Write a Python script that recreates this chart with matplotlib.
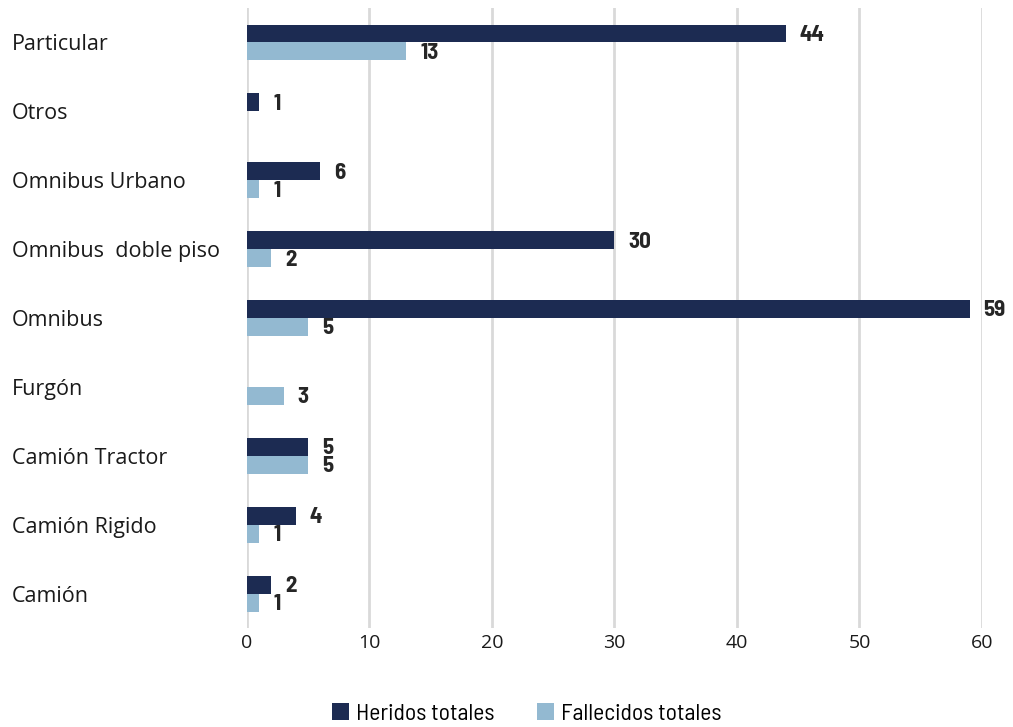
import matplotlib.pyplot as plt
import numpy as np

categorias = ["Camión", "Camión Rigido", "Camión Tractor", "Furgón", "Omnibus",
              "Omnibus  doble piso", "Omnibus Urbano", "Otros", "Particular"]
heridos = [2, 4, 5, None, 59, 30, 6, 1, 44]
fallecidos = [1, 1, 5, 3, 5, 2, 1, None, 13]

COLOR_HER = "#1c2b52"
COLOR_FAL = "#93b9d1"
FUENTE_NUM = ["Barlow Semi Condensed", "Roboto Condensed", "Roboto", "DejaVu Sans"]
FUENTE_CAT = ["Open Sans", "Lato", "DejaVu Sans"]

fig = plt.figure(figsize=(10.13, 7.27), dpi=100)
ax = fig.add_axes([0.2438, 0.136, 0.7256, 0.853])

y = np.arange(len(categorias))
alto = 0.26


def a_num(vals):
    return [np.nan if v is None else v for v in vals]


b1 = ax.barh(y + alto / 2, a_num(heridos), height=alto, color=COLOR_HER,
             label="Heridos totales", zorder=3)
b2 = ax.barh(y - alto / 2, a_num(fallecidos), height=alto, color=COLOR_FAL,
             label="Fallecidos totales", zorder=3)

for barras, vals in ((b1, heridos), (b2, fallecidos)):
    for barra, v in zip(barras, vals):
        if v is None:
            continue
        ax.annotate(str(v), (v, barra.get_y() + barra.get_height() / 2),
                    xytext=(10, -1), textcoords="offset points",
                    ha="left", va="center", fontsize=16.5, fontweight="bold",
                    family=FUENTE_NUM, color="#262626")

ax.set_xlim(0, 60)
ax.set_ylim(-0.5, len(categorias) - 0.5)
ax.set_xticks(range(0, 61, 10))
ax.set_yticks(y)
ax.set_yticklabels(categorias, fontsize=15.5, family=FUENTE_CAT, color="#1a1a1a")
ax.tick_params(axis="x", labelsize=14, colors="#1a1a1a", length=0, pad=4)
ax.tick_params(axis="y", length=0, pad=0)
for lab in ax.get_yticklabels():
    lab.set_horizontalalignment("left")
    lab.set_x(-0.232 / 0.7256)
for lab in ax.get_xticklabels():
    lab.set_family(FUENTE_CAT)

ax.grid(axis="x", color="#d9d9d9", linewidth=2, zorder=0)
for s in ax.spines.values():
    s.set_visible(False)

fig.legend(handles=[b1, b2], loc="center", bbox_to_anchor=(0.52, 0.018),
           ncol=2, frameon=False, handlelength=0.7, handleheight=0.7,
           columnspacing=1.8, handletextpad=0.3,
           prop={"family": FUENTE_NUM, "size": 17})

fig.savefig("out.png", dpi=100)
